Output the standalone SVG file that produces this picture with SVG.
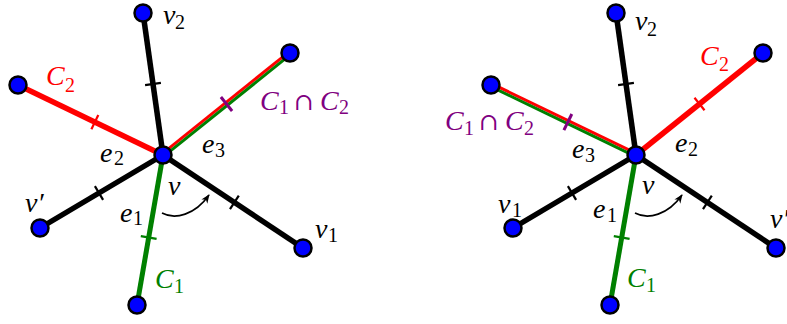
<svg xmlns="http://www.w3.org/2000/svg" width="787" height="324" viewBox="0 0 787 324">
<defs>
<style>
.e{fill:none;stroke-linecap:butt}
.blk{stroke:#000;stroke-width:5.5}
.red{stroke:#f00;stroke-width:5.5}
.grn{stroke:#008000;stroke-width:5}
.r2{stroke:#f00;stroke-width:3}
.g2{stroke:#008000;stroke-width:3}
.tk{stroke-width:2.2}
.tb{stroke:#000}
.tr{stroke:#f00}
.tg{stroke:#008000}
.tp{stroke:#800080;stroke-width:3}
.arc{fill:none;stroke:#000;stroke-width:1.6}
.node{fill:#00f;stroke:#000;stroke-width:2.5}
text{font-family:"Liberation Serif","DejaVu Serif",serif;font-style:italic;font-size:28px;fill:#000}
.s{font-style:normal;font-size:20px}
.u{font-style:normal;font-size:24px;font-family:"DejaVu Serif",serif}
.cr{fill:#f00}
.cg{fill:#008000}
.cp{fill:#800080}
</style>
<marker id="arr" viewBox="0 0 10 10" refX="9" refY="5" markerWidth="9" markerHeight="9" markerUnits="userSpaceOnUse" orient="auto">
<path d="M0,1 L10,5 L0,9 L3,5 z" fill="#000"/>
</marker>
</defs>

<g id="connectors">
<g id="left-edges">
<path class="e blk" d="M163,155 L143,13"/>
<path class="e tk tb" d="M160.9,82.9 L145.1,85.1"/>
<path class="e red" d="M163,155 L18,85"/>
<path class="e tk tr" d="M98.3,114.9 L91.4,129.3"/>
<path class="e r2" d="M162.06,153.83 L289.06,51.83"/>
<path class="e g2" d="M163.94,156.17 L290.94,54.17"/>
<path class="e tp" d="M232.1,111 L220.9,97"/>
<path class="e blk" d="M163,155 L40,228"/>
<path class="e tk tb" d="M103.1,199.9 L94.9,186.1"/>
<path class="e grn" d="M163,155 L137,305"/>
<path class="e tk tg" d="M156.6,238.9 L140.8,236.1"/>
<path class="e blk" d="M163,155 L303,248"/>
<path class="e tk tb" d="M230,209.1 L238.8,195.7"/>
<path class="arc" d="M162,213 C175,220 195,215 209,195" marker-end="url(#arr)"/>
</g>
<g id="right-edges" transform="translate(473,0)">
<path class="e blk" d="M163,155 L143,13"/>
<path class="e tk tb" d="M160.9,82.9 L145.1,85.1"/>
<path class="e r2" d="M163.65,153.65 L18.65,83.65"/>
<path class="e g2" d="M162.35,156.35 L17.35,86.35"/>
<path class="e tp" d="M98.8,114 L90.9,130.2"/>
<path class="e red" d="M163,155 L290,53"/>
<path class="e tk tr" d="M231.5,110.2 L221.5,97.8"/>
<path class="e blk" d="M163,155 L40,228"/>
<path class="e tk tb" d="M103.1,199.9 L94.9,186.1"/>
<path class="e grn" d="M163,155 L137,305"/>
<path class="e tk tg" d="M156.6,238.9 L140.8,236.1"/>
<path class="e blk" d="M163,155 L303,248"/>
<path class="e tk tb" d="M230,209.1 L238.8,195.7"/>
<path class="arc" d="M162,213 C175,220 195,215 209,195" marker-end="url(#arr)"/>
</g>
</g>

<g id="L-v"><circle class="node" cx="163" cy="155" r="8.5"/><text x="168" y="195">v</text></g>
<g id="L-v2"><circle class="node" cx="143" cy="13" r="8.5"/><text x="163" y="24">v<tspan class="s" x="175" y="29">2</tspan></text></g>
<g id="L-c2end"><circle class="node" cx="18" cy="85" r="8.5"/></g>
<g id="L-c12end"><circle class="node" cx="290" cy="53" r="8.5"/></g>
<g id="L-vp"><circle class="node" cx="40" cy="228" r="8.5"/><text x="25" y="212">v′</text></g>
<g id="L-c1end"><circle class="node" cx="137" cy="305" r="8.5"/></g>
<g id="L-v1"><circle class="node" cx="303" cy="248" r="8.5"/><text x="315" y="238">v<tspan class="s" x="328" y="242">1</tspan></text></g>
<g id="L-labels">
<text class="cr" x="46" y="85">C<tspan class="s" x="65" y="92">2</tspan></text>
<text class="cp" x="260" y="110">C<tspan class="s" x="279" y="114">1</tspan><tspan class="u" x="294" y="110">∩</tspan><tspan x="320" y="110">C</tspan><tspan class="s" x="339" y="114">2</tspan></text>
<text x="202" y="153">e<tspan class="s" x="215" y="157">3</tspan></text>
<text x="100" y="162">e<tspan class="s" x="114" y="165">2</tspan></text>
<text x="120" y="222">e<tspan class="s" x="133" y="225">1</tspan></text>
<text class="cg" x="155" y="288">C<tspan class="s" x="174" y="293">1</tspan></text>
</g>

<g id="R-v"><circle class="node" cx="636" cy="155" r="8.5"/><text x="642" y="194">v</text></g>
<g id="R-v2"><circle class="node" cx="616" cy="13" r="8.5"/><text x="635" y="30">v<tspan class="s" x="647" y="36">2</tspan></text></g>
<g id="R-c12end"><circle class="node" cx="491" cy="85" r="8.5"/></g>
<g id="R-c2end"><circle class="node" cx="763" cy="53" r="8.5"/></g>
<g id="R-v1"><circle class="node" cx="513" cy="228" r="8.5"/><text x="498" y="213">v<tspan class="s" x="512" y="217">1</tspan></text></g>
<g id="R-c1end"><circle class="node" cx="610" cy="305" r="8.5"/></g>
<g id="R-vp"><circle class="node" cx="776" cy="248" r="8.5"/><text x="770" y="228">v′</text></g>
<g id="R-labels">
<text class="cr" x="700" y="65">C<tspan class="s" x="719" y="71">2</tspan></text>
<text class="cp" x="445" y="130">C<tspan class="s" x="464" y="135">1</tspan><tspan class="u" x="479" y="130">∩</tspan><tspan x="505" y="130">C</tspan><tspan class="s" x="524" y="135">2</tspan></text>
<text x="675" y="152">e<tspan class="s" x="688" y="156">2</tspan></text>
<text x="572" y="158">e<tspan class="s" x="585" y="162">3</tspan></text>
<text x="593" y="218">e<tspan class="s" x="607" y="222">1</tspan></text>
<text class="cg" x="627" y="287">C<tspan class="s" x="646" y="292">1</tspan></text>
</g>
</svg>
